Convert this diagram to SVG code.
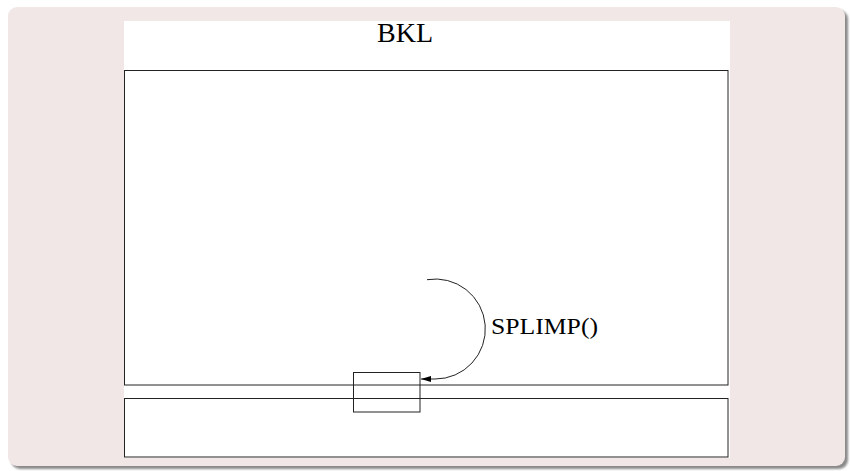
<svg xmlns="http://www.w3.org/2000/svg" width="850" height="471" viewBox="0 0 850 471">
<defs>
<style>
.ln{fill:none;stroke:#222;stroke-width:1}
.t{font-family:"Liberation Serif","Times New Roman",serif;fill:#000}
</style>
<marker id="ah" viewBox="0 0 10 6" refX="10" refY="3" markerWidth="10" markerHeight="6" markerUnits="userSpaceOnUse" orient="auto">
<path d="M0,0 L10,3 L0,6 Z" fill="#000"/>
</marker>
<filter id="blur" x="-5%" y="-5%" width="110%" height="110%"><feGaussianBlur stdDeviation="1.2"/></filter>
</defs>
<rect x="0" y="0" width="850" height="471" fill="#ffffff"/>
<g id="panel">
<rect x="11" y="10" width="837" height="459" rx="9" fill="#8a8a8a" filter="url(#blur)"/>
<rect x="8" y="7" width="837" height="459" rx="9" fill="#f2e7e7"/>
<rect x="124" y="21" width="606" height="437" fill="#ffffff"/>
</g>
<g id="title"><text class="t" x="405" y="42" font-size="28" text-anchor="middle">BKL</text></g>
<g id="upper"><rect class="ln" x="124.5" y="70.5" width="603.5" height="314.5"/></g>
<g id="lower"><rect class="ln" x="124.5" y="398.5" width="603.5" height="58.5"/></g>
<g id="box"><rect class="ln" x="353.5" y="372.5" width="66.5" height="39.5"/></g>
<g id="connectors">
<path class="ln" d="M427,279.7 A50,50 0 1 1 435,379 L421,379" marker-end="url(#ah)"/>
</g>
<g id="label"><text class="t" x="491" y="334" font-size="24" textLength="107" lengthAdjust="spacingAndGlyphs">SPLIMP()</text></g>
</svg>
